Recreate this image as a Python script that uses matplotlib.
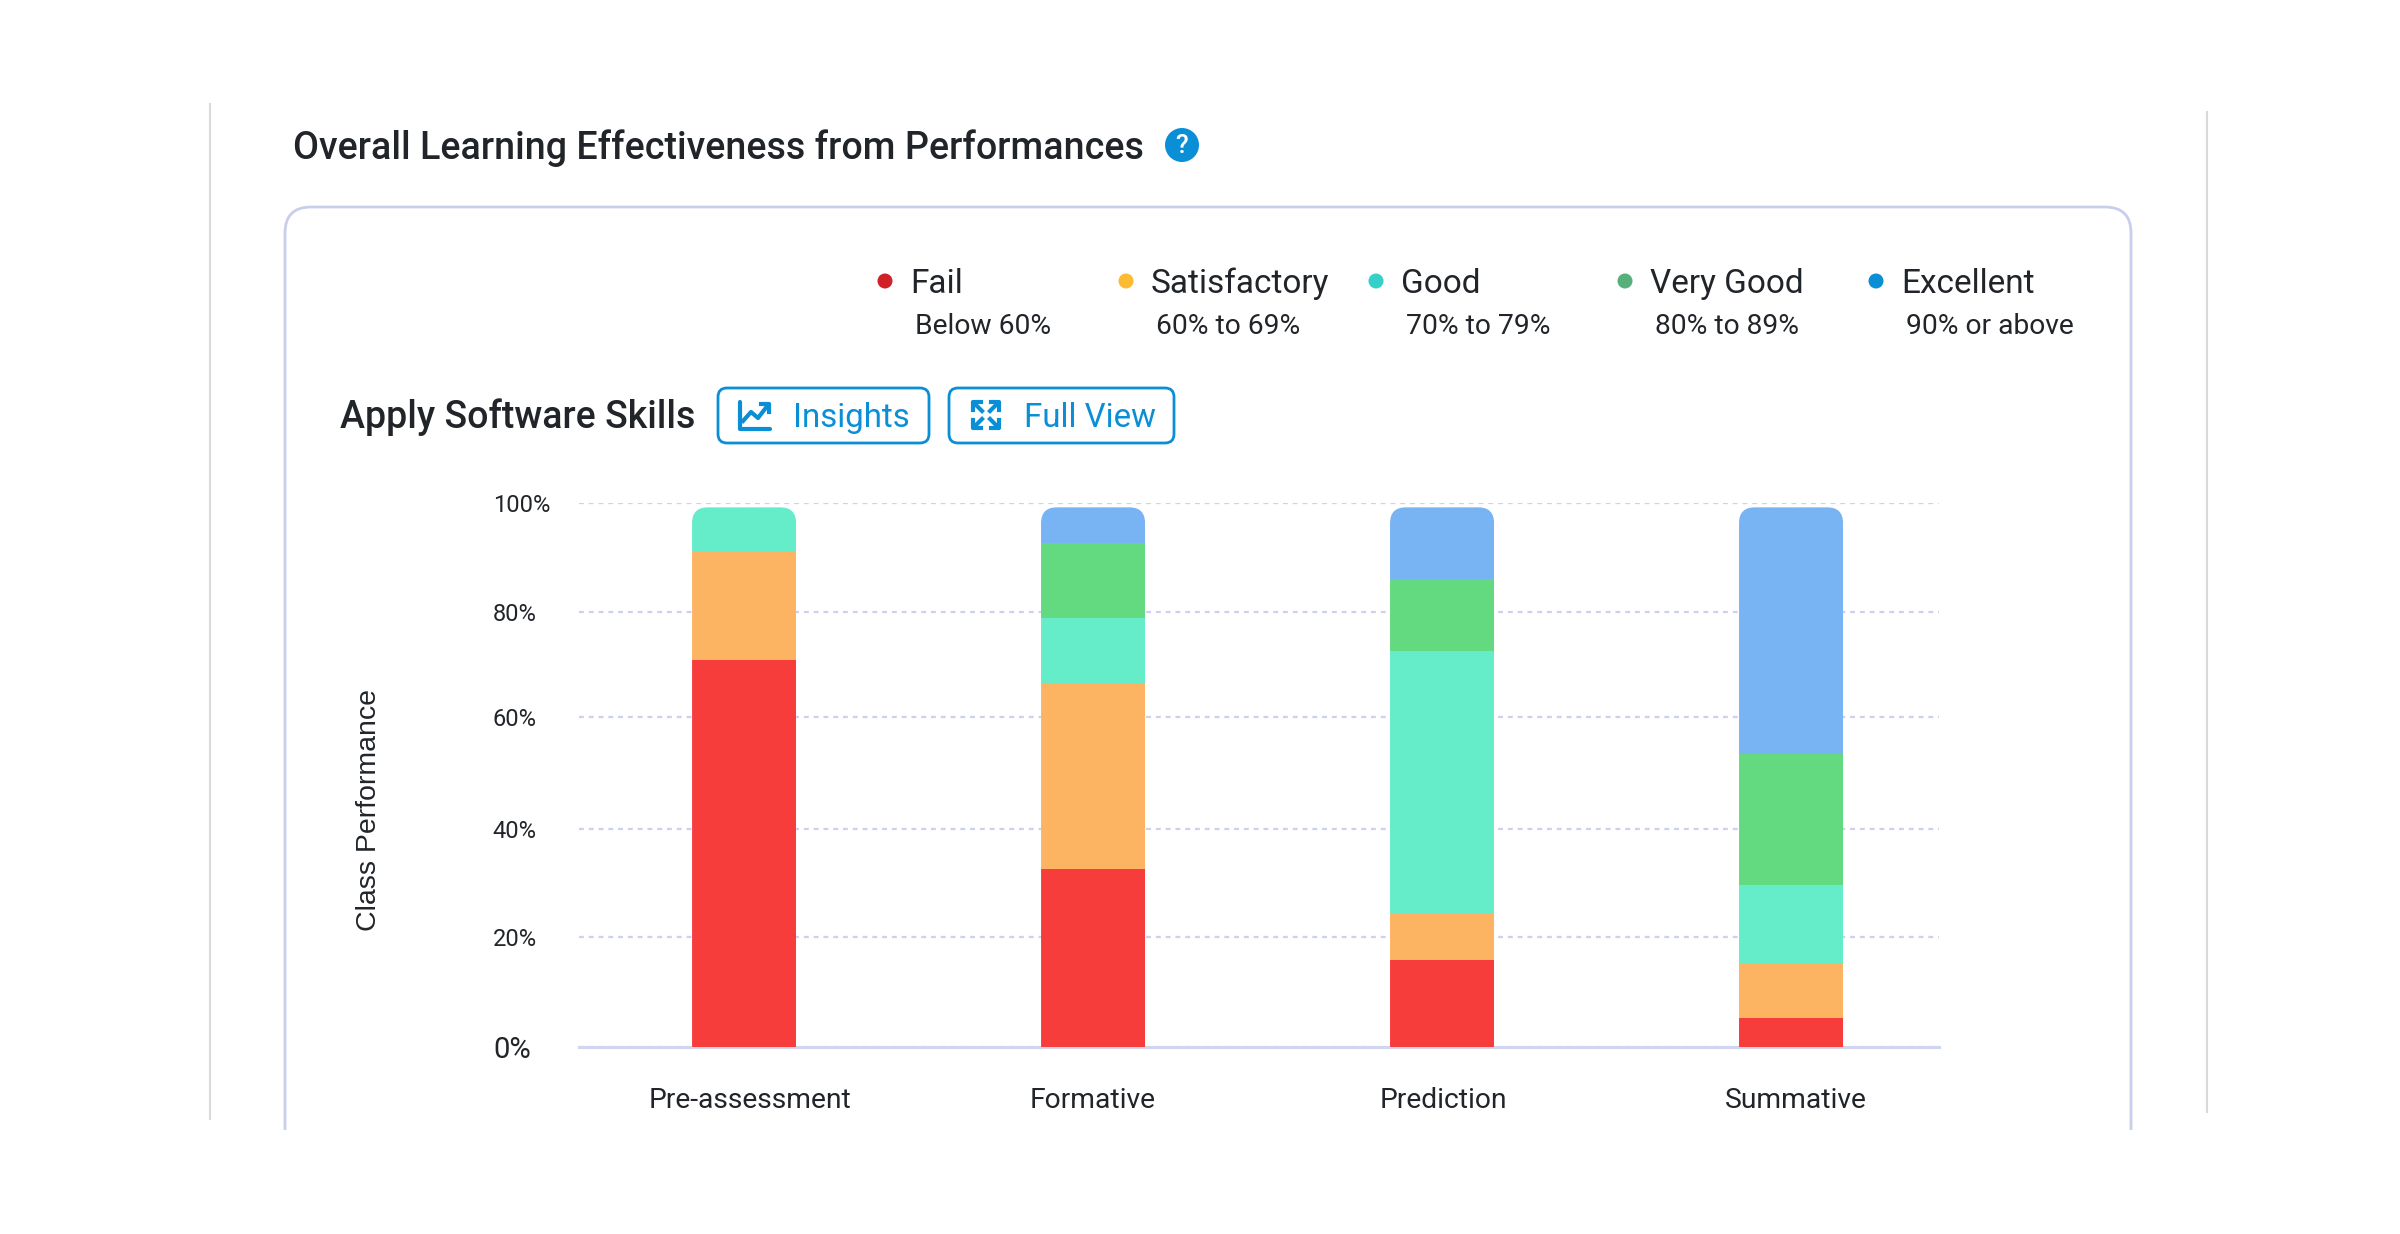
import matplotlib
matplotlib.use("Agg")
import matplotlib.pyplot as plt
from matplotlib.patches import FancyBboxPatch, Circle, Rectangle

plt.rcParams['font.family'] = ['Roboto', 'DejaVu Sans']

# data
categories = ["Pre-assessment", "Formative", "Prediction", "Summative"]
fail = [71.2, 32.7, 16.0, 5.3]
satisfactory = [19.8, 34.2, 8.7, 10.1]
good = [8.2, 12.0, 48.1, 14.4]
very_good = [0, 13.8, 13.2, 24.1]
excellent = [0, 6.5, 13.2, 45.3]

series = [fail, satisfactory, good, very_good, excellent]
bar_colors = ["#f73c3c", "#fcb463", "#64edc8", "#64da80", "#78b4f3"]

legend_names = ["Fail", "Satisfactory", "Good", "Very Good", "Excellent"]
legend_ranges = ["Below 60%", "60% to 69%", "70% to 79%", "80% to 89%", "90% or above"]
legend_colors = ["#d0202a", "#fdba33", "#35d0c8", "#57b07a", "#0a8fd6"]

# the gridlines in the picture are not quite evenly spaced
y_ticks = [0, 20.2, 40.05, 60.6, 80, 100]
y_labels = ["0%", "20%", "40%", "60%", "80%", "100%"]
x_label_shift = [0.017, 0, 0.004, 0.013]

W, H = 2400, 1234
BLUE = "#0a8fd6"
DARK = "#212529"
CARD = "#c8ceec"

fig = plt.figure(figsize=(24, 12.34), dpi=100, facecolor="white")

# page layer in pixel coordinates
bg = fig.add_axes([0, 0, 1, 1])
bg.set_xlim(0, W)
bg.set_ylim(H, 0)
bg.axis("off")

bg.plot([210, 210], [104, 1119], color="#d9d9d9", lw=1.5)
bg.plot([2207, 2207], [112, 1112], color="#d9d9d9", lw=1.5)

# card, open at the bottom
card = FancyBboxPatch((285, 207), 1846, 1000, boxstyle="round,pad=0,rounding_size=26",
                      fc="white", ec=CARD, lw=2)
bg.add_patch(card)
card.set_clip_path(Rectangle((0, 0), W, 1130, transform=bg.transData))

bg.text(293, 148, "Overall Learning Effectiveness from Performances", fontsize=27.05,
        fontweight=500, color=DARK, va="center")
bg.add_patch(Circle((1182, 145), 17, fc=BLUE, ec="none"))
bg.text(1182, 146, "?", fontsize=19, color="white", ha="center", va="center", fontweight=500)

# legend
dot_x = [885, 1126, 1376, 1625, 1876]
for x, name, rng, c in zip(dot_x, legend_names, legend_ranges, legend_colors):
    bg.add_patch(Circle((x, 281), 7.5, fc=c, ec="none"))
    bg.text(x + 25, 284, name, fontsize=24, color=DARK, va="center")
    bg.text(x + 30, 327, rng, fontsize=20.3, color=DARK, va="center")

bg.text(340, 417, "Apply Software Skills", fontsize=27, fontweight=500, color=DARK, va="center")

# buttons
for x0, x1 in [(718, 929), (949, 1174)]:
    bg.add_patch(FancyBboxPatch((x0, 388), x1 - x0, 55, boxstyle="round,pad=0,rounding_size=9",
                                fc="white", ec=BLUE, lw=2))
bg.text(793, 418, "Insights", fontsize=23.8, color=BLUE, va="center")
bg.text(1024, 418, "Full View", fontsize=23.8, color=BLUE, va="center")

# chart icon
bg.plot([740, 740, 770], [402, 429, 429], color=BLUE, lw=3, solid_capstyle="round")
bg.plot([743, 751, 758, 768], [421, 412, 418, 405], color=BLUE, lw=3)
bg.plot([761, 769, 769], [404, 404, 412], color=BLUE, lw=3)

# expand icon
cx, cy = 986, 415
for sx in (-1, 1):
    for sy in (-1, 1):
        bg.plot([cx + sx * 13, cx + sx * 13, cx + sx * 5],
                [cy + sy * 5, cy + sy * 13, cy + sy * 13], color=BLUE, lw=3)
        bg.plot([cx + sx * 11, cx + sx * 4], [cy + sy * 11, cy + sy * 4], color=BLUE, lw=3)

# chart
left, right, top, bottom = 579, 1939, 503, 1047
ax = fig.add_axes([left / W, 1 - bottom / H, (right - left) / W, (bottom - top) / H])
ax.patch.set_alpha(0)
ax.set_xlim(-0.473, 3.424)
ax.set_ylim(0, 100)

positions = list(range(len(categories)))
bar_w = 104 / 349
base = [0] * len(categories)
tops = [sum(v) for v in zip(*series)]
for vals, c in zip(series, bar_colors):
    bars = ax.bar(positions, vals, bottom=base, width=bar_w, color=c, zorder=3)
    for b, p, t in zip(bars, positions, tops):
        clip = FancyBboxPatch((p - bar_w / 2, -20), bar_w, t + 20,
                              boxstyle="round,pad=0,rounding_size=0.045", mutation_aspect=64,
                              transform=ax.transData)
        b.set_clip_path(clip)
    base = [a + v for a, v in zip(base, vals)]

for s in ["top", "right", "left"]:
    ax.spines[s].set_visible(False)
ax.spines["bottom"].set_color("#d0d6f0")
ax.spines["bottom"].set_linewidth(2.2)
ax.spines["bottom"].set_zorder(2)

ax.set_yticks(y_ticks)
ax.set_yticklabels(y_labels, fontsize=17, color=DARK)
for t in ax.get_yticklabels():
    t.set_ha("left")
ax.get_yticklabels()[0].set_fontsize(21)
ax.tick_params(axis="y", length=0, pad=62)
ax.set_xticks([p + d for p, d in zip(positions, x_label_shift)])
ax.set_xticklabels(categories, fontsize=20.3, color=DARK)
ax.tick_params(axis="x", length=0, pad=29)
ax.yaxis.grid(True, color="#ccd1ee", lw=1.6, linestyle=(0, (2.2, 2.2)), zorder=1)
ax.set_axisbelow(True)

bg.text(369, 810, "Class Performance", fontsize=20.5, family="Liberation Sans", color=DARK,
        rotation=90, ha="center", va="center")

fig.savefig("out.png", dpi=100)
